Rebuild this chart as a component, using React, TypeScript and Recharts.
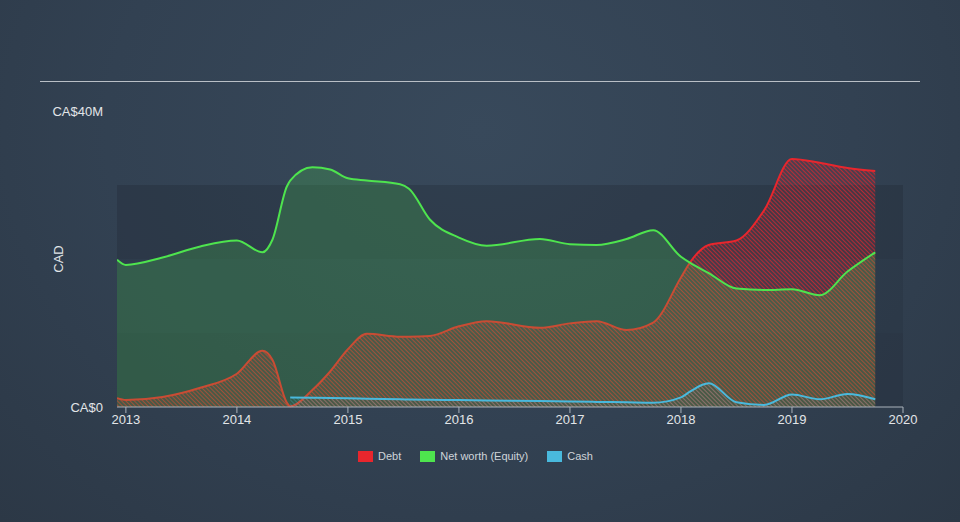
import { AreaChart, Area, XAxis, YAxis, ReferenceArea, Label } from 'recharts';

const dates = [2012.92, 2013.0, 2013.33, 2013.67, 2014.0, 2014.23, 2014.32, 2014.45, 2014.48, 2014.68, 2014.84, 2015.0, 2015.17, 2015.47, 2015.55, 2015.74, 2016.0, 2016.25, 2016.73, 2017.0, 2017.24, 2017.51, 2017.75, 2018.0, 2018.08, 2018.25, 2018.5, 2018.75, 2019.0, 2019.25, 2019.5, 2019.75];

// values in CA$ millions
const debt = [1.2, 0.95, 1.35, 2.6, 4.5, 7.6, 6.4, 0.6, 0.1, 2.3, 4.8, 7.8, 9.9, 9.5, 9.5, 9.6, 10.9, 11.6, 10.7, 11.3, 11.6, 10.4, 11.4, 17.5, 19.5, 21.9, 22.5, 26.6, 33.5, 33.0, 32.3, 31.9];
const equity = [19.9, 19.2, 20.2, 21.7, 22.5, 20.9, 22.6, 29.8, 30.6, 32.4, 32.1, 30.9, 30.6, 30.1, 29.5, 25.3, 22.9, 21.8, 22.7, 22.0, 21.9, 22.7, 23.9, 20.3, 19.5, 18.1, 16.0, 15.8, 15.9, 15.1, 18.3, 20.9];
const cash = [null, null, null, null, null, null, null, null, 1.3, 1.25, 1.21, 1.17, 1.12, 1.04, 1.02, 0.98, 0.93, 0.88, 0.8, 0.74, 0.69, 0.63, 0.58, 1.3, 2.07, 3.2, 0.63, 0.27, 1.7, 1.04, 1.76, 1.04];

const yearTicks = [2013, 2014, 2015, 2016, 2017, 2018, 2019, 2020];
const yTicks = [0, 40];
const yTickLabels: Record<number, string> = { 0: 'CA$0', 40: 'CA$40M' };

const legendItems = [
  { name: 'Debt', color: '#e8262d' },
  { name: 'Net worth (Equity)', color: '#4ee44e' },
  { name: 'Cash', color: '#49b9dd' },
];

const data = dates.map((d, i) => ({ date: d, debt: debt[i], equity: equity[i], cash: cash[i] }));

const font = '"Liberation Sans", Arial, sans-serif';

const CadLabel = ({ viewBox }: any) => {
  const cx = viewBox.x + 41;
  const cy = viewBox.y + viewBox.height / 2;
  return (
    <text x={cx} y={cy} transform={`rotate(-90 ${cx} ${cy})`} textAnchor="middle" dominantBaseline="central" fill="#e2e5e8" fontSize={13} fontFamily={font}>
      CAD
    </text>
  );
};

export default function App() {
  return (
    <div
      style={{
        position: 'absolute',
        left: 0,
        top: 0,
        width: 960,
        height: 522,
        fontFamily: font,
        background: 'radial-gradient(ellipse at 50% 25%, #38495b 0%, #324152 55%, #2c3846 100%)',
        overflow: 'hidden',
      }}
    >
      <div style={{ position: 'absolute', left: 40, top: 81, width: 880, height: 1, background: '#b9bfc6' }} />
      <AreaChart width={960} height={522} data={data} margin={{ top: 111, right: 57, bottom: 85, left: 17 }}>
        <defs>
          <pattern id="hatchRed" patternUnits="userSpaceOnUse" width="3" height="3" patternTransform="rotate(-45)">
            <rect width="3" height="3" fill="#e8262d" fillOpacity={0.15} />
            <line x1="0" y1="0" x2="0" y2="3" stroke="#e8262d" strokeWidth={1.5} strokeOpacity={0.9} />
          </pattern>
          <pattern id="hatchBlue" patternUnits="userSpaceOnUse" width="3" height="3" patternTransform="rotate(-45)">
            <line x1="0" y1="0" x2="0" y2="3" stroke="#49b9dd" strokeWidth={1.2} strokeOpacity={0.5} />
          </pattern>
        </defs>
        <ReferenceArea y1={0} y2={10} fill="#1c2530" fillOpacity={0.25} stroke="none" />
        <ReferenceArea y1={10} y2={20} fill="#1c2530" fillOpacity={0.18} stroke="none" />
        <ReferenceArea y1={20} y2={30} fill="#1c2530" fillOpacity={0.28} stroke="none" />
        <XAxis
          dataKey="date"
          type="number"
          domain={[2012.92, 2020]}
          ticks={yearTicks}
          allowDataOverflow
          height={30}
          tickSize={6}
          tickMargin={2}
          axisLine={{ stroke: '#aab2bb' }}
          tickLine={{ stroke: '#aab2bb' }}
          tick={{ fill: '#e2e5e8', fontSize: 13, fontFamily: font }}
        />
        <YAxis
          type="number"
          domain={[0, 40]}
          ticks={yTicks}
          width={100}
          axisLine={false}
          tickLine={false}
          tickSize={6}
          tickMargin={8}
          tickFormatter={(v: number) => yTickLabels[v] ?? ''}
          tick={{ fill: '#e2e5e8', fontSize: 13, fontFamily: font }}
        >
          <Label content={<CadLabel />} />
        </YAxis>
        <Area type="monotone" dataKey="debt" stroke="#e8262d" strokeWidth={2} fill="url(#hatchRed)" fillOpacity={1} isAnimationActive={false} dot={false} activeDot={false} />
        <Area type="monotone" dataKey="equity" stroke="#4ee44e" strokeWidth={2} fill="#4ee44e" fillOpacity={0.2} isAnimationActive={false} dot={false} activeDot={false} />
        <Area type="monotone" dataKey="cash" stroke="#49b9dd" strokeWidth={2} fill="url(#hatchBlue)" fillOpacity={1} isAnimationActive={false} dot={false} activeDot={false} />
      </AreaChart>
      <div
        style={{
          position: 'absolute',
          left: 358,
          top: 449,
          display: 'flex',
          gap: 19,
          fontSize: 11,
          color: '#cfd4d9',
          lineHeight: '14px',
        }}
      >
        {legendItems.map((it) => (
          <div key={it.name} style={{ display: 'flex', alignItems: 'center', gap: 5 }}>
            <span style={{ display: 'inline-block', width: 15, height: 11, background: it.color }} />
            <span>{it.name}</span>
          </div>
        ))}
      </div>
    </div>
  );
}
